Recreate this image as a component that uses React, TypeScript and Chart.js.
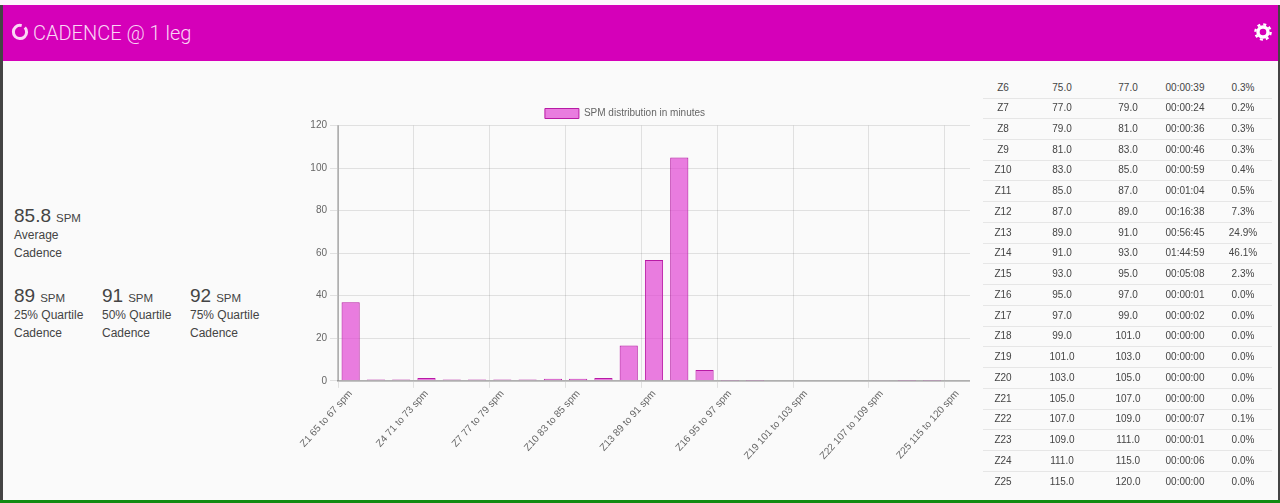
import React, { useEffect, useRef } from 'react';
import Chart from 'chart.js/auto';

const ZONE_NAMES = ['Z1', 'Z2', 'Z3', 'Z4', 'Z5', 'Z6', 'Z7', 'Z8', 'Z9', 'Z10', 'Z11', 'Z12', 'Z13', 'Z14', 'Z15', 'Z16', 'Z17', 'Z18', 'Z19', 'Z20', 'Z21', 'Z22', 'Z23', 'Z24', 'Z25'];
const ZONE_LOW = [65, 67, 69, 71, 73, 75, 77, 79, 81, 83, 85, 87, 89, 91, 93, 95, 97, 99, 101, 103, 105, 107, 109, 111, 115];
const ZONE_HIGH = [67, 69, 71, 73, 75, 77, 79, 81, 83, 85, 87, 89, 91, 93, 95, 97, 99, 101, 103, 105, 107, 109, 111, 115, 120];
const MINUTES = [37, 0.7, 0.7, 1.4, 0.7, 0.7, 0.7, 0.7, 1, 1, 1.3, 16.6, 56.75, 105, 5.1, 0.02, 0.03, 0, 0, 0, 0, 0.12, 0.02, 0.1, 0];
const DURATIONS = ['00:00:39', '00:00:24', '00:00:36', '00:00:46', '00:00:59', '00:01:04', '00:16:38', '00:56:45', '01:44:59', '00:05:08', '00:00:01', '00:00:02', '00:00:00', '00:00:00', '00:00:00', '00:00:00', '00:00:07', '00:00:01', '00:00:06', '00:00:00'];
const PERCENTS = ['0.3%', '0.2%', '0.3%', '0.3%', '0.4%', '0.5%', '7.3%', '24.9%', '46.1%', '2.3%', '0.0%', '0.0%', '0.0%', '0.0%', '0.0%', '0.0%', '0.1%', '0.0%', '0.0%', '0.0%'];
const QUARTILES = [['89', '25% Quartile'], ['91', '50% Quartile'], ['92', '75% Quartile']];

const FIRST_TABLE_ZONE = 5;
const LABEL_STEP = 3;
const FONT = '"Liberation Sans", Arial, sans-serif';

const labels = ZONE_NAMES.map((z, i) => `${z} ${ZONE_LOW[i]} to ${ZONE_HIGH[i]} spm`);

const CadenceChart: React.FC = () => {
  const canvasRef = useRef<HTMLCanvasElement | null>(null);

  useEffect(() => {
    const ctx = canvasRef.current?.getContext('2d');
    if (!ctx) return;
    const gridColor = (c: any) => (c.index % LABEL_STEP === 0 ? 'rgba(0,0,0,0.1)' : 'rgba(0,0,0,0)');
    const chart = new Chart(ctx, {
      type: 'bar',
      data: {
        labels,
        datasets: [
          {
            label: 'SPM distribution in minutes',
            data: MINUTES,
            backgroundColor: 'rgba(224,64,210,0.68)',
            borderColor: '#b81aa5',
            borderWidth: 1,
          },
        ],
      },
      options: {
        animation: false,
        responsive: false,
        layout: { padding: { top: 1 } },
        plugins: {
          tooltip: { enabled: false },
          legend: {
            labels: { boxWidth: 34, boxHeight: 10, padding: 2.5, font: { family: FONT, size: 10 }, color: '#666' },
          },
        },
        scales: {
          x: {
            grid: { color: gridColor, tickColor: gridColor, tickLength: 7 },
            border: { color: 'rgba(0,0,0,0.22)', width: 2 },
            ticks: {
              autoSkip: false,
              minRotation: 48,
              maxRotation: 48,
              padding: 0,
              color: '#666',
              font: { family: FONT, size: 10 },
              callback: (_v, i) => (i % LABEL_STEP === 0 ? labels[i] : ''),
            },
          },
          y: {
            min: 0,
            max: 120,
            grid: { color: 'rgba(0,0,0,0.1)', tickLength: 8 },
            border: { color: 'rgba(0,0,0,0.22)', width: 2 },
            ticks: { stepSize: 20, color: '#666', font: { family: FONT, size: 10 } },
            afterFit: (scale: any) => {
              scale.width = 58;
            },
          },
        },
      },
    });
    // legend sits closer to the plot than the padding option allows
    const legend = (chart as any).legend;
    const fit = legend.fit;
    legend.fit = function (this: any) {
      fit.call(this);
      this.height -= 3;
    };
    chart.update();
    return () => chart.destroy();
  }, []);

  return <canvas ref={canvasRef} width={690} height={357} style={{ position: 'absolute', left: 280, top: 105 }} />;
};

const Stat: React.FC<{ x: number; y: number; value: string; lines: string[] }> = ({ x, y, value, lines }) => (
  <div style={{ position: 'absolute', left: x, top: y, color: '#444', whiteSpace: 'nowrap' }}>
    <div style={{ height: 23, lineHeight: '23px' }}>
      <span style={{ fontSize: 19 }}>{value}</span>
      <span style={{ fontSize: 11.5, marginLeft: 5 }}>SPM</span>
    </div>
    {lines.map((l) => (
      <div key={l} style={{ fontSize: 12, height: 17.5, lineHeight: '17.5px' }}>{l}</div>
    ))}
  </div>
);

const cell = (left: number, text: string): React.ReactNode => (
  <span key={left} style={{ position: 'absolute', left: left - 40, width: 80, textAlign: 'center' }}>{text}</span>
);

const Gear: React.FC = () => (
  <svg width={18} height={18} viewBox="0 0 18 18" style={{ position: 'absolute', left: 1254, top: 23 }}>
    <circle cx={9} cy={9} r={5} fill="none" stroke="#fff" strokeWidth={3.4} />
    <circle cx={9} cy={9} r={7.6} fill="none" stroke="#fff" strokeWidth={2.4} strokeDasharray="3 2.97" />
  </svg>
);

const App: React.FC = () => (
  <div style={{ position: 'fixed', left: 0, top: 0, width: 1280, height: 503, overflow: 'hidden', background: '#fafafa', fontFamily: FONT }}>
    <div style={{ position: 'absolute', left: 0, top: 0, width: 1280, height: 5, background: '#fdf5fc' }} />
    <div style={{ position: 'absolute', left: 0, top: 5, width: 1280, height: 56, background: '#d500b9' }} />
    <div style={{ position: 'absolute', left: 0, top: 5, width: 3, height: 495, background: '#444' }} />
    <div style={{ position: 'absolute', left: 1278, top: 5, width: 2, height: 495, background: '#444' }} />
    <div style={{ position: 'absolute', left: 0, top: 500, width: 1280, height: 3, background: '#118a11' }} />
    <svg width={18} height={18} viewBox="0 0 18 18" style={{ position: 'absolute', left: 11, top: 23 }}>
      <circle cx={9} cy={9} r={6.6} fill="none" stroke="#fbd6f5" strokeWidth={3} strokeDasharray="37.5 4" transform="rotate(-43 9 9)" />
    </svg>
    <div style={{ position: 'absolute', left: 33, top: 20, fontFamily: 'Roboto, sans-serif', fontWeight: 300, fontSize: 20, lineHeight: '26px', color: '#fbd6f5', whiteSpace: 'nowrap' }}>
      CADENCE @ 1 leg
    </div>
    <Gear />

    <Stat x={14} y={204} value="85.8" lines={['Average', 'Cadence']} />
    {QUARTILES.map(([v, l], i) => (
      <Stat key={l} x={14 + i * 88} y={284} value={v} lines={[l, 'Cadence']} />
    ))}

    <CadenceChart />

    {DURATIONS.map((d, i) => {
      const z = i + FIRST_TABLE_ZONE;
      return (
        <div key={z} style={{ position: 'absolute', left: 0, width: 1280, top: 77.5 + i * 20.74, height: 20.74, lineHeight: '20px', fontSize: 10, color: '#444' }}>
          {cell(1003, ZONE_NAMES[z])}
          {cell(1062, ZONE_LOW[z].toFixed(1))}
          {cell(1128, ZONE_HIGH[z].toFixed(1))}
          {cell(1185, d)}
          {cell(1243, PERCENTS[i])}
          {i < DURATIONS.length - 1 && (
            <div style={{ position: 'absolute', left: 983, width: 289, top: 20, height: 1, background: '#e6e6e6' }} />
          )}
        </div>
      );
    })}
  </div>
);

export default App;
